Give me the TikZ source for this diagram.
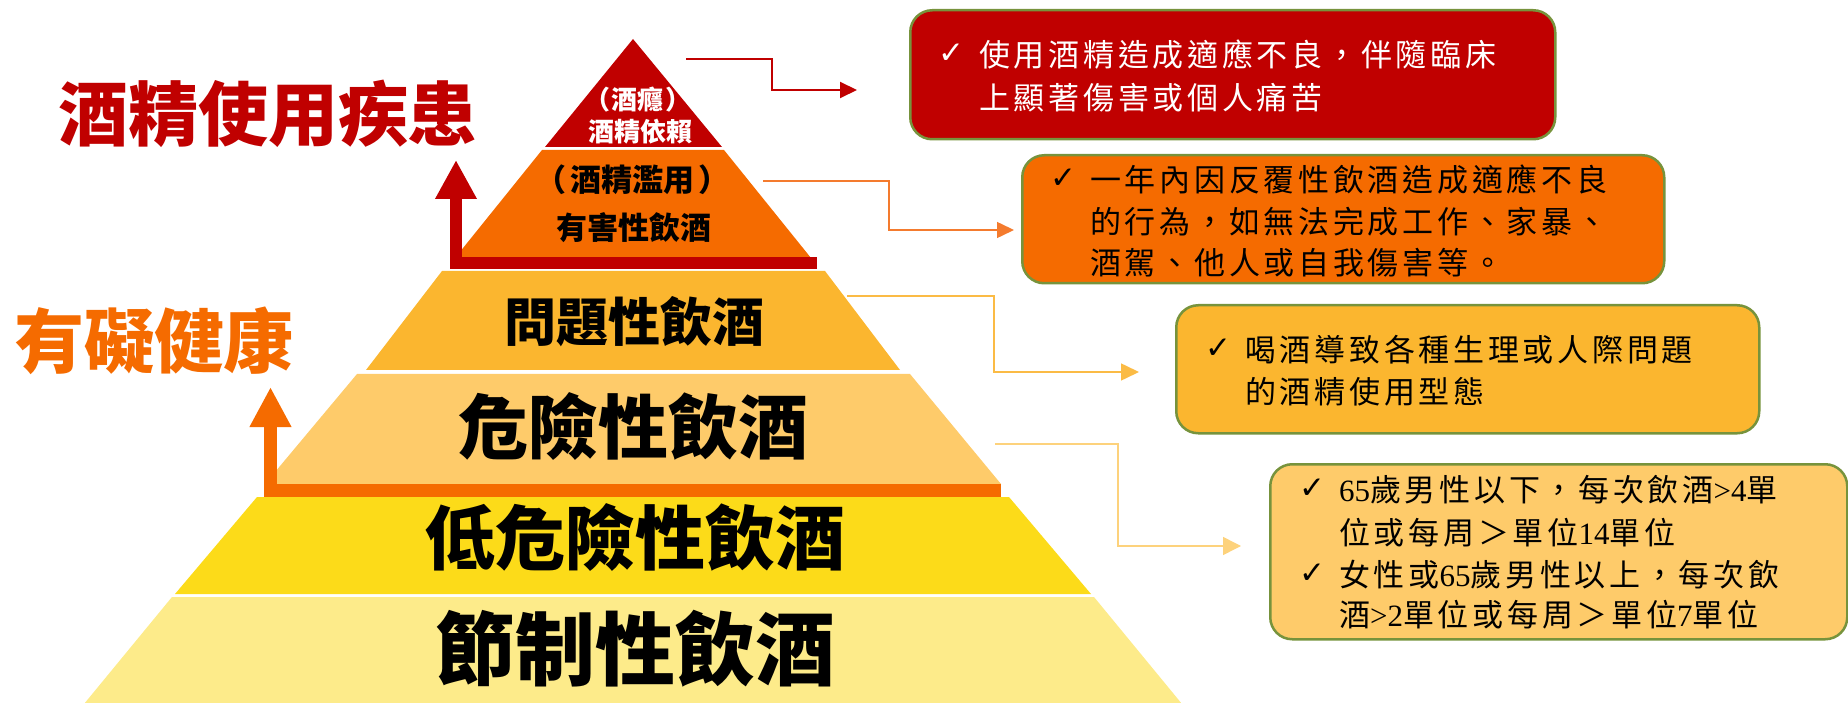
\documentclass[tikz,border=0pt]{standalone}
\usepackage{fontspec}
\newfontfamily\cjk{Noto Sans CJK TC}
\newfontfamily\cjkbox{Noto Sans CJK TC}[LetterSpace=12]
\newfontfamily\lat{Liberation Serif}
\newfontfamily\sym{DejaVu Sans}
\usetikzlibrary{arrows.meta}
\definecolor{dred}{HTML}{C00000}
\definecolor{tor}{HTML}{F56B00}
\definecolor{tam}{HTML}{FBB62F}
\definecolor{tlt}{HTML}{FECB6A}
\definecolor{tgo}{HTML}{FCDB19}
\definecolor{tpa}{HTML}{FDEB8A}
\definecolor{bgreen}{HTML}{77933C}
\definecolor{lor}{HTML}{F47B2E}
\definecolor{lam}{HTML}{FBBB45}
\definecolor{llt}{HTML}{FDD27C}
\begin{document}
\begin{tikzpicture}[x=1pt,y=-1pt,
  box/.style={draw=bgreen, line width=2.5pt, rounded corners=22pt, anchor=north west, inner sep=0pt},
  lbl/.style={inner sep=0pt},
  txt/.style={inner sep=0pt, anchor=west, font=\cjkbox\fontsize{31}{31}\selectfont},
  chk/.style={inner sep=0pt, anchor=west, font=\sym\fontsize{31}{31}\selectfont},
  conn/.style={-{Triangle[length=17pt,width=16pt]}},
]
\useasboundingbox (0,0) rectangle (1848,703);
% pyramid tiers
\fill[dred] (633,39) -- (722,147) -- (545,147) -- cycle;
\fill[tor] (542,150) -- (724,150) -- (811,258) -- (455,258) -- cycle;
\fill[tam] (442,271) -- (825,271) -- (900,370) -- (366,370) -- cycle;
\fill[tlt] (357,374) -- (910,374) -- (1001,484) -- (265,484) -- cycle;
\fill[tgo] (257,497) -- (1009,497) -- (1091,594) -- (175,594) -- cycle;
\fill[tpa] (172,597) -- (1094,597) -- (1182,704) -- (84,704) -- cycle;
% L-shaped arrows
\draw[dred, line width=12pt, -{Triangle[length=39pt,width=39pt]}] (817,263) -- (456,263) -- (456,160);
\draw[tor, line width=13pt, -{Triangle[length=40pt,width=39pt]}] (1001,490.5) -- (270.5,490.5) -- (270.5,387);
% tier labels
\node[lbl, text=white, font=\cjk\bfseries\fontsize{26}{26}\selectfont] (t1a) at (638,100) {（\hspace{2pt}酒癮\hspace{2pt}）};
\node[lbl, text=white, font=\cjk\bfseries\fontsize{26}{26}\selectfont] (t1b) at (640,132) {酒精依賴};
\node[lbl, font=\cjk\bfseries\fontsize{31}{31}\selectfont] (t2a) at (632,180) {（\hspace{4pt}酒精濫用\hspace{4pt}）};
\node[lbl, font=\cjk\bfseries\fontsize{31}{31}\selectfont] (t2b) at (634,228) {有害性飲酒};
\node[lbl, font=\cjk\bfseries\fontsize{52}{52}\selectfont] (t3) at (634,322) {問題性飲酒};
\node[lbl, font=\cjk\bfseries\fontsize{70}{70}\selectfont] (t4) at (633,426) {危險性飲酒};
\node[lbl, font=\cjk\bfseries\fontsize{70}{70}\selectfont] (t5) at (635,537) {低危險性飲酒};
\node[lbl, font=\cjk\bfseries\fontsize{80}{80}\selectfont] (t6) at (635,649) {節制性飲酒};
% side titles
\node[lbl, text=dred, font=\cjk\bfseries\fontsize{70}{70}\selectfont] (ttl1) at (268,114) {酒精使用疾患};
\node[lbl, text=tor, font=\cjk\bfseries\fontsize{70}{70}\selectfont] (ttl2) at (154,341) {有礙健康};
% boxes
\node[box, fill=dred, minimum width=645pt, minimum height=129pt] (b1) at (909,9) {};
\node[box, fill=tor, minimum width=642pt, minimum height=128pt] (b2) at (1021,154) {};
\node[box, fill=tam, minimum width=583pt, minimum height=128pt] (b3) at (1175,304) {};
\node[box, fill=tlt, minimum width=577pt, minimum height=175pt] (b4) at (1269,463) {};
% box texts
\node[chk, text=white] (k1) at (938,54) {✓};
\node[txt, text=white] (b1l1) at (979,55) {使用酒精造成適應不良，伴隨臨床};
\node[txt, text=white] (b1l2) at (979,98) {上顯著傷害或個人痛苦};
\node[chk] (k2) at (1050,179) {✓};
\node[txt] (b2l1) at (1090,180) {一年內因反覆性飲酒造成適應不良};
\node[txt] (b2l2) at (1090,222) {的行為，如無法完成工作、家暴、};
\node[txt] (b2l3) at (1090,263) {酒駕、他人或自我傷害等。};
\node[chk] (k3) at (1205,349) {✓};
\node[txt] (b3l1) at (1245,350) {喝酒導致各種生理或人際問題};
\node[txt] (b3l2) at (1245,392) {的酒精使用型態};
\node[chk] (k4) at (1299,489) {✓};
\node[txt] (b4l1) at (1339,490) {{\lat 65}歲男性以下，每次飲酒{\lat >4}單};
\node[txt] (b4l2) at (1339,533) {位或每周＞單位{\lat 14}單位};
\node[chk] (k5) at (1299,574) {✓};
\node[txt] (b4l3) at (1339,575) {女性或{\lat 65}歲男性以上，每次飲};
\node[txt] (b4l4) at (1339,615) {酒{\lat >2}單位或每周＞單位{\lat 7}單位};
% connectors
\coordinate (c1s) at (686,59);  \coordinate (c1e) at (857,90);
\coordinate (c2s) at (763,181); \coordinate (c2e) at (1014,230);
\coordinate (c3s) at (847,296); \coordinate (c3e) at (1139,372);
\coordinate (c4s) at (995,444); \coordinate (c4e) at (1241,546);
\draw[dred, line width=2pt, conn] (c1s) -- ++(86,0) |- (c1e);
\draw[lor, line width=1.5pt, conn] (c2s) -- ++(126,0) |- (c2e);
\draw[lam, line width=1.5pt, -{Triangle[length=18pt,width=17pt]}] (c3s) -- ++(147,0) |- (c3e);
\draw[llt, line width=1.5pt, -{Triangle[length=18pt,width=18pt]}] (c4s) -- ++(123,0) |- (c4e);
\end{tikzpicture}
\end{document}
